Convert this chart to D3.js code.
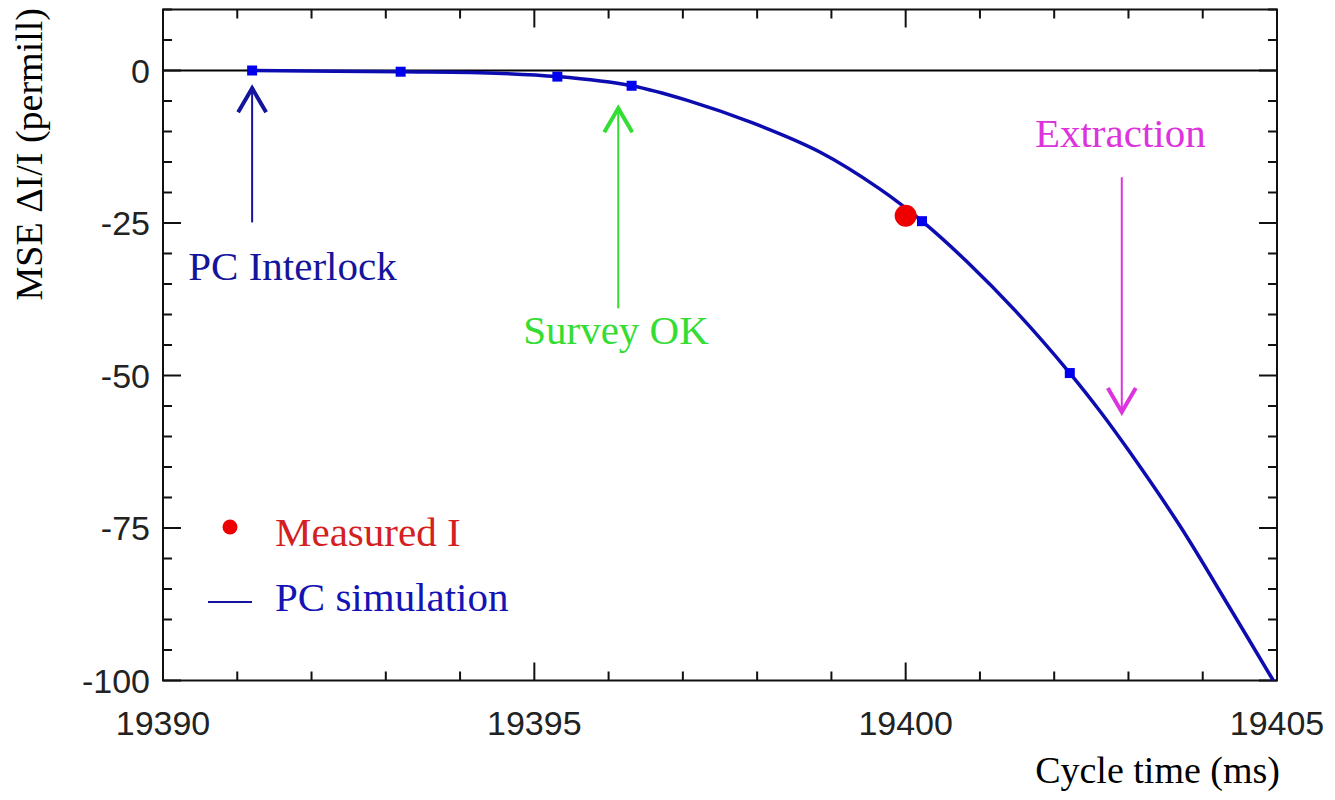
<!DOCTYPE html>
<html>
<head>
<meta charset="utf-8">
<script src="https://cdn.jsdelivr.net/npm/d3@7"></script>
<style>
  body { margin: 0; background: #fff; }
  svg { display: block; }
  .tick-label { font-family: "Liberation Sans", Arial, sans-serif; font-size: 34px; fill: #222; }
  .serif { font-family: "Liberation Serif", "Times New Roman", serif; }
</style>
</head>
<body>
<svg id="chart" width="1335" height="800"></svg>
<script>
"use strict";

// PC simulation curve (cycle time ms, MSE dI/I permill)
var sim_t = [19391.2, 19393.2, 19394.27, 19395.31, 19396.31, 19397.06, 19397.94, 19398.85,
             19399.65, 19400.22, 19400.83, 19401.50, 19402.21, 19402.62, 19403.02, 19403.69,
             19404.37, 19404.95];
var sim_v = [0, -0.2, -0.35, -1.0, -2.5, -4.9, -8.6, -13.4,
             -19.4, -24.7, -31.4, -39.7, -49.6, -55.9, -62.6, -74.6,
             -88.2, -100];

// square markers on the simulation
var mark_t = [19391.2, 19393.2, 19395.31, 19396.31, 19400.22, 19402.21];
var mark_v = [0, -0.2, -1.0, -2.5, -24.7, -49.6];

// measured point
var meas_t = [19400.0];
var meas_v = [-23.8];

var x_ticks = [19390, 19395, 19400, 19405];
var y_ticks = [0, -25, -50, -75, -100];

// annotations: label, arrow x, arrow tail, arrow tip, label x, label baseline
var notes = [
  {label: 'PC Interlock', t: 19391.2,  from: -24.9, to: -2.9,  lx: 19390.34, ly: -34.3, color: '#14149c'},
  {label: 'Survey OK',    t: 19396.13, from: -39.0, to: -6.2,  lx: 19394.85, ly: -44.8, color: '#33dd33'},
  {label: 'Extraction',   t: 19402.91, from: -17.5, to: -56.0, lx: 19401.74, ly: -12.5, color: '#dd33dd'}
];

var svg = d3.select('#chart');
var x = d3.scaleLinear().domain([19390, 19405]).range([163, 1277]);
var y = d3.scaleLinear().domain([-100, 10]).range([680.5, 9.5]);

var x0 = x.range()[0], x1 = x.range()[1];
var y0 = y.range()[1], y1 = y.range()[0];

// zero line
svg.append('line')
  .attr('x1', x0).attr('x2', x1)
  .attr('y1', y(0)).attr('y2', y(0))
  .attr('stroke', '#000').attr('stroke-width', 2);

// ticks on all four sides, pointing inward
var ticks = svg.append('g').attr('stroke', '#111').attr('stroke-width', 2);
d3.range(19390, 19406, 1).forEach(function(t) {
  var len = (t % 5 === 0) ? 18 : 9;
  ticks.append('line').attr('x1', x(t)).attr('x2', x(t)).attr('y1', y1).attr('y2', y1 - len);
  ticks.append('line').attr('x1', x(t)).attr('x2', x(t)).attr('y1', y0).attr('y2', y0 + len);
});
d3.range(-100, 11, 5).forEach(function(v) {
  var len = (v % 25 === 0) ? 18 : 9;
  ticks.append('line').attr('x1', x0).attr('x2', x0 + len).attr('y1', y(v)).attr('y2', y(v));
  ticks.append('line').attr('x1', x1).attr('x2', x1 - len).attr('y1', y(v)).attr('y2', y(v));
});

// frame
svg.append('rect')
  .attr('x', x0).attr('y', y0)
  .attr('width', x1 - x0).attr('height', y1 - y0)
  .attr('fill', 'none').attr('stroke', '#111').attr('stroke-width', 2);

// tick labels
svg.selectAll('.xl').data(x_ticks).enter().append('text')
  .attr('class', 'tick-label')
  .attr('x', d => x(d)).attr('y', 735)
  .attr('text-anchor', 'middle')
  .text(d => d);
svg.selectAll('.yl').data(y_ticks).enter().append('text')
  .attr('class', 'tick-label')
  .attr('x', 150).attr('y', d => y(d) + 12)
  .attr('text-anchor', 'end')
  .text(d => d);

// axis titles
svg.append('text').attr('class', 'serif')
  .attr('x', 1280).attr('y', 783)
  .attr('text-anchor', 'end')
  .attr('font-size', 38)
  .text('Cycle time (ms)');
svg.append('text').attr('class', 'serif')
  .attr('transform', 'translate(42, 8) rotate(-90)')
  .attr('text-anchor', 'end')
  .attr('font-size', 38)
  .text('MSE \u0394I/I (permill)');

// simulation curve
var sim = sim_t.map((t, i) => ({t: t, v: sim_v[i]}));
svg.append('path')
  .datum(sim)
  .attr('fill', 'none')
  .attr('stroke', '#0c0cb0')
  .attr('stroke-width', 3.5)
  .attr('d', d3.line().x(d => x(d.t)).y(d => y(d.v)).curve(d3.curveCatmullRom));

// square markers
svg.selectAll('.sq').data(mark_t).enter().append('rect')
  .attr('x', d => x(d) - 5)
  .attr('y', (d, i) => y(mark_v[i]) - 5)
  .attr('width', 10).attr('height', 10)
  .attr('fill', '#0000ee');

// measured point
svg.selectAll('.meas').data(meas_t).enter().append('circle')
  .attr('cx', d => x(d))
  .attr('cy', (d, i) => y(meas_v[i]))
  .attr('r', 11)
  .attr('fill', '#ee0000');

// arrows and labels
notes.forEach(function(n) {
  var g = svg.append('g').attr('stroke', n.color).attr('fill', 'none');
  var ax = x(n.t), tip = y(n.to), tail = y(n.from);
  var dir = tip < tail ? 1 : -1;   // 1: arrow points up
  g.append('line')
    .attr('x1', ax).attr('x2', ax).attr('y1', tail).attr('y2', tip)
    .attr('stroke-width', 2);
  g.append('path')
    .attr('d', 'M' + (ax - 14) + ',' + (tip + dir * 24) + 'L' + ax + ',' + tip + 'L' + (ax + 14) + ',' + (tip + dir * 24))
    .attr('stroke-width', 4);
  svg.append('text').attr('class', 'serif')
    .attr('x', x(n.lx)).attr('y', y(n.ly))
    .attr('font-size', 41)
    .attr('fill', n.color)
    .text(n.label);
});

// legend
svg.append('circle').attr('cx', 230).attr('cy', 527).attr('r', 7.5).attr('fill', '#ee0000');
svg.append('text').attr('class', 'serif')
  .attr('x', 275).attr('y', 546).attr('font-size', 41).attr('fill', '#d42020')
  .text('Measured I');
svg.append('line').attr('x1', 208).attr('x2', 252).attr('y1', 602).attr('y2', 602)
  .attr('stroke', '#1414a0').attr('stroke-width', 2);
svg.append('text').attr('class', 'serif')
  .attr('x', 275).attr('y', 611).attr('font-size', 41).attr('fill', '#1414b4')
  .text('PC simulation');
</script>
</body>
</html>
